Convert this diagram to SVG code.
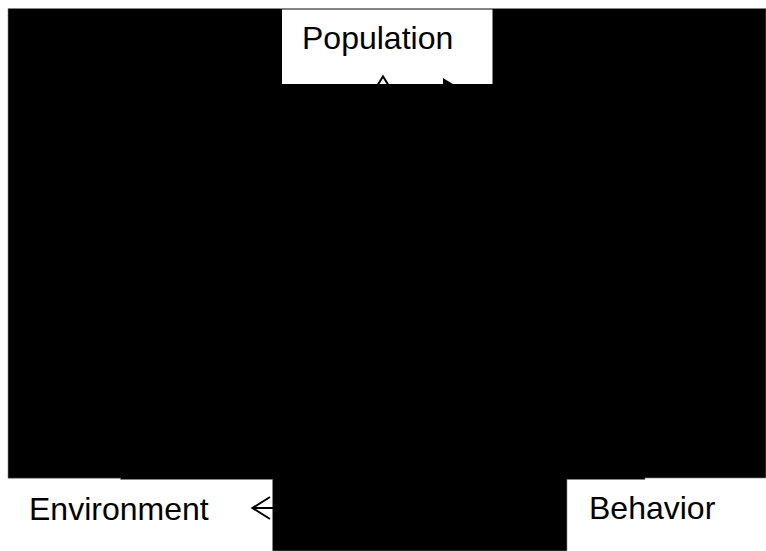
<svg xmlns="http://www.w3.org/2000/svg" width="766" height="551" viewBox="0 0 766 551">
  <style>
    .lbl { font-family: "Liberation Sans", Arial, sans-serif; font-size: 32px; fill: #000; }
    .box { fill: #fff; stroke: none; }
    .arrow { fill: none; stroke: #000; stroke-width: 2; stroke-linejoin: miter; }
    .head { fill: #000; stroke: none; }
  </style>
  <rect x="0" y="0" width="766" height="551" fill="#fff"/>
  <g id="backdrop">
    <polygon points="8,8.5 766,8.5 766,478 645,478 645,479.5 567,479.5 567,551 272.5,551 272.5,479.5 120.5,479.5 120.5,478.3 8,478.3" fill="#000" stroke="#888" stroke-width="0.6"/>
  </g>
  <g id="node-population">
    <rect class="box" x="282" y="9.5" width="210.5" height="74.5"/>
    <text class="lbl" x="302" y="49">Population</text>
  </g>
  <g id="node-environment">
    <text class="lbl" x="29" y="520">Environment</text>
  </g>
  <g id="node-behavior">
    <text class="lbl" x="589" y="519">Behavior</text>
  </g>
  <g id="connectors">
    <path class="arrow" d="M372,94 L383,76.5 L394,94"/>
    <path class="head" d="M443,78 L461,89 L443,100 Z"/>
    <path class="arrow" d="M270,497 L252.5,508 L270,519 M252.5,508 L273,508"/>
  </g>
</svg>
